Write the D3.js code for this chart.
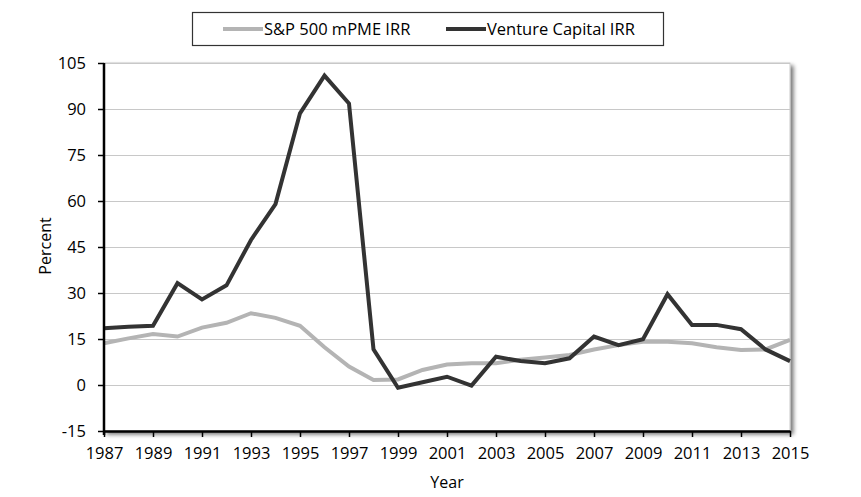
<!DOCTYPE html>
<html>
<head>
<meta charset="utf-8">
<script src="https://cdn.jsdelivr.net/npm/d3@7"></script>
<style>
	body { margin: 0; background: #fff; }
	.chart text { font-family: 'Open Sans', sans-serif; fill: #000; }
	.axis path, .axis line { stroke: #000; }
</style>
</head>
<body>
<div class="chart"></div>
<script>
var years = d3.range(1987, 2016);
var sp500 = [13.6, 15.2, 16.6, 15.8, 18.7, 20.3, 23.4, 21.9, 19.3, 12.3, 6.0, 1.6, 1.8, 4.9, 6.7,
	7.1, 7.1, 8.2, 9.0, 9.8, 11.6, 13.0, 14.1, 14.1, 13.6, 12.3, 11.4, 11.6, 14.7];
var venture = [18.5, 19.0, 19.3, 33.2, 27.9, 32.5, 47.3, 59.0, 88.6, 100.9, 91.8, 11.6, -0.9, 0.9, 2.7,
	-0.2, 9.2, 7.8, 7.1, 8.7, 15.8, 13.0, 14.9, 29.6, 19.6, 19.6, 18.2, 11.6, 7.8];
var yTicks = [-15, 0, 15, 30, 45, 60, 75, 90, 105];
var xTicks = d3.range(1987, 2016, 2);
var seriesNames = ['S&P 500 mPME IRR', 'Venture Capital IRR'];
var seriesColors = ['#b4b4b4', '#333333'];

initLineChart();

// line chart init
function initLineChart() {
	var W = 861, H = 497;
	var fontSize = '16.5px';
	var margin = { top: 63, right: 71, bottom: 66, left: 104 };
	var width = W - margin.left - margin.right;
	var height = H - margin.top - margin.bottom;

	var svg = d3.select('.chart').append('svg')
		.attr('width', W)
		.attr('height', H);

	var defs = svg.append('defs');
	var f = defs.append('filter').attr('id', 'shadow')
		.attr('x', '-5%').attr('y', '-5%').attr('width', '115%').attr('height', '115%');
	f.append('feGaussianBlur').attr('in', 'SourceAlpha').attr('stdDeviation', 2);
	f.append('feOffset').attr('dx', 3).attr('dy', 3).attr('result', 'b');
	f.append('feComponentTransfer').append('feFuncA').attr('type', 'linear').attr('slope', 0.55);
	var fm = f.append('feMerge');
	fm.append('feMergeNode');
	fm.append('feMergeNode').attr('in', 'SourceGraphic');

	var g = svg.append('g')
		.attr('transform', 'translate(' + margin.left + ',' + margin.top + ')');

	var x = d3.scaleLinear().domain([1987, 2015]).range([0, width]);
	var y = d3.scaleLinear().domain([-15, 105]).range([height, 0]);

	// plot area with shadow
	g.append('rect')
		.attr('width', width)
		.attr('height', height)
		.attr('fill', '#fff')
		.attr('stroke', '#c8c8c8')
		.attr('filter', 'url(#shadow)');

	// grid
	g.append('g')
		.selectAll('line')
		.data(yTicks.slice(1))
		.enter()
		.append('line')
		.attr('x1', 0)
		.attr('x2', width)
		.attr('y1', function(d) { return y(d) + 0.5; })
		.attr('y2', function(d) { return y(d) + 0.5; })
		.attr('stroke', '#c8c8c8')
		.attr('stroke-width', 1.2);

	var line = d3.line()
		.x(function(d, i) { return x(years[i]); })
		.y(function(d) { return y(d); });

	[sp500, venture].forEach(function(s, i) {
		g.append('path')
			.datum(s)
			.attr('fill', 'none')
			.attr('stroke', seriesColors[i])
			.attr('stroke-width', 4)
			.attr('stroke-linejoin', 'miter')
			.attr('d', line);
	});

	var xAxis = g.append('g')
		.attr('class', 'axis')
		.attr('transform', 'translate(0,' + height + ')')
		.call(d3.axisBottom(x).tickValues(xTicks).tickFormat(function(d) { return String(d); }).tickSizeInner(6).tickSizeOuter(0).tickPadding(10));
	xAxis.select('.domain').attr('stroke-width', 2.5);
	xAxis.selectAll('line').attr('stroke-width', 1.5);
	xAxis.selectAll('text').style('font-size', fontSize);

	var yAxis = g.append('g')
		.attr('class', 'axis')
		.call(d3.axisLeft(y).tickValues(yTicks).tickFormat(function(d) { return String(d); }).tickSizeInner(6).tickSizeOuter(0).tickPadding(12));
	yAxis.select('.domain').attr('stroke-width', 2.5).attr('d', 'M0,0V' + (height + 4));
	yAxis.selectAll('line').attr('stroke-width', 1.5);
	yAxis.selectAll('text').style('font-size', fontSize);

	svg.append('text')
		.attr('transform', 'translate(45,' + (margin.top + height / 2 - 1) + ') rotate(-90)')
		.attr('text-anchor', 'middle')
		.attr('dy', '0.35em')
		.style('font-size', '16px')
		.text('Percent');

	svg.append('text')
		.attr('x', 447)
		.attr('y', 482)
		.attr('text-anchor', 'middle')
		.attr('dy', '0.35em')
		.style('font-size', '16px')
		.text('Year');

	// legend
	var legend = svg.append('g');
	legend.append('rect')
		.attr('x', 192.5).attr('y', 12.5)
		.attr('width', 471).attr('height', 33)
		.attr('fill', '#fff')
		.attr('stroke', '#333')
		.attr('stroke-width', 1.2);

	var items = [{ x: 223, tx: 264 }, { x: 446, tx: 487 }];
	items.forEach(function(it, i) {
		legend.append('line')
			.attr('x1', it.x).attr('x2', it.x + 40)
			.attr('y1', 29).attr('y2', 29)
			.attr('stroke', seriesColors[i])
			.attr('stroke-width', 4);
		legend.append('text')
			.attr('x', it.tx).attr('y', 29)
			.attr('dy', '0.35em')
			.style('font-size', '16.5px')
			.text(seriesNames[i]);
	});
}
</script>
</body>
</html>
